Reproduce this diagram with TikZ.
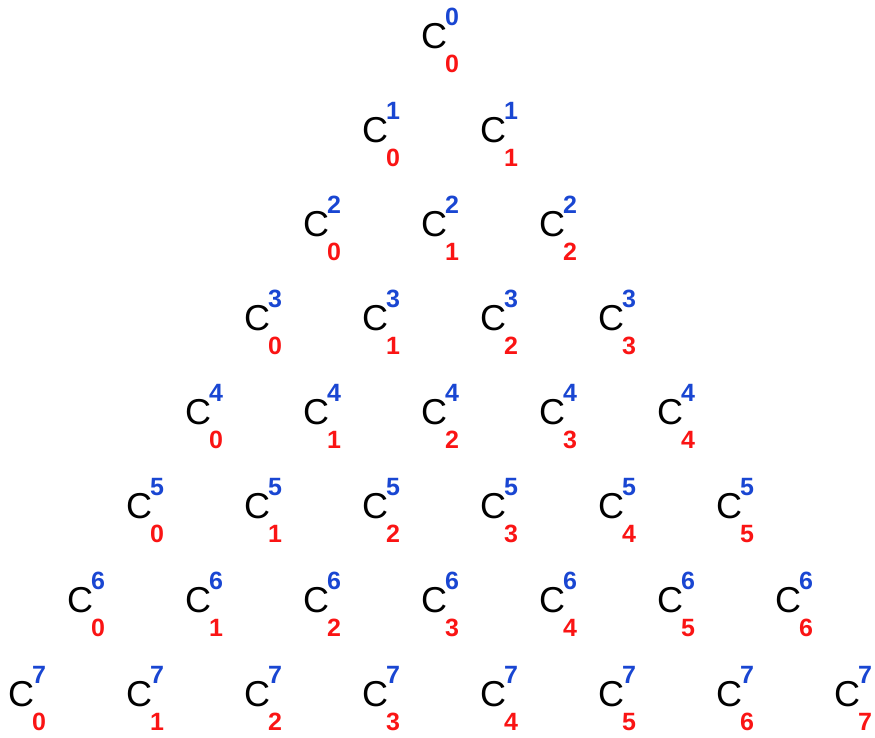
\documentclass[tikz,border=0pt]{standalone}
\usepackage{fontspec}
\setmainfont{Liberation Sans}
\usetikzlibrary{positioning}
\definecolor{ink}{RGB}{0,0,0}
\definecolor{upper}{RGB}{25,70,210}
\definecolor{lower}{RGB}{250,20,20}
\tikzset{
  every picture/.style={x=1pt, y=-1pt},
  letter/.style={inner sep=0pt, text=ink, font=\fontsize{36}{36}\selectfont},
  upidx/.style={inner sep=0pt, text=upper, font=\fontsize{25}{25}\selectfont\bfseries},
  lowidx/.style={inner sep=0pt, text=lower, font=\fontsize{25}{25}\selectfont\bfseries},
}

\begin{document}
\begin{tikzpicture}
  \useasboundingbox (0,0) rectangle (875,738);
  % rows of the triangle
  \foreach \n in {0,...,7} {
    \foreach \k in {0,...,\n} {
      \node[letter] (c-\n-\k) at ({434-59*\n+118*\k},{36+94*\n}) {C};
      \node[upidx] (u-\n-\k) at ([shift={(18,-19)}]c-\n-\k.center) {\n};
      \node[lowidx] (l-\n-\k) at ([shift={(18,28)}]c-\n-\k.center) {\k};
    }
  }
\end{tikzpicture}
\end{document}
